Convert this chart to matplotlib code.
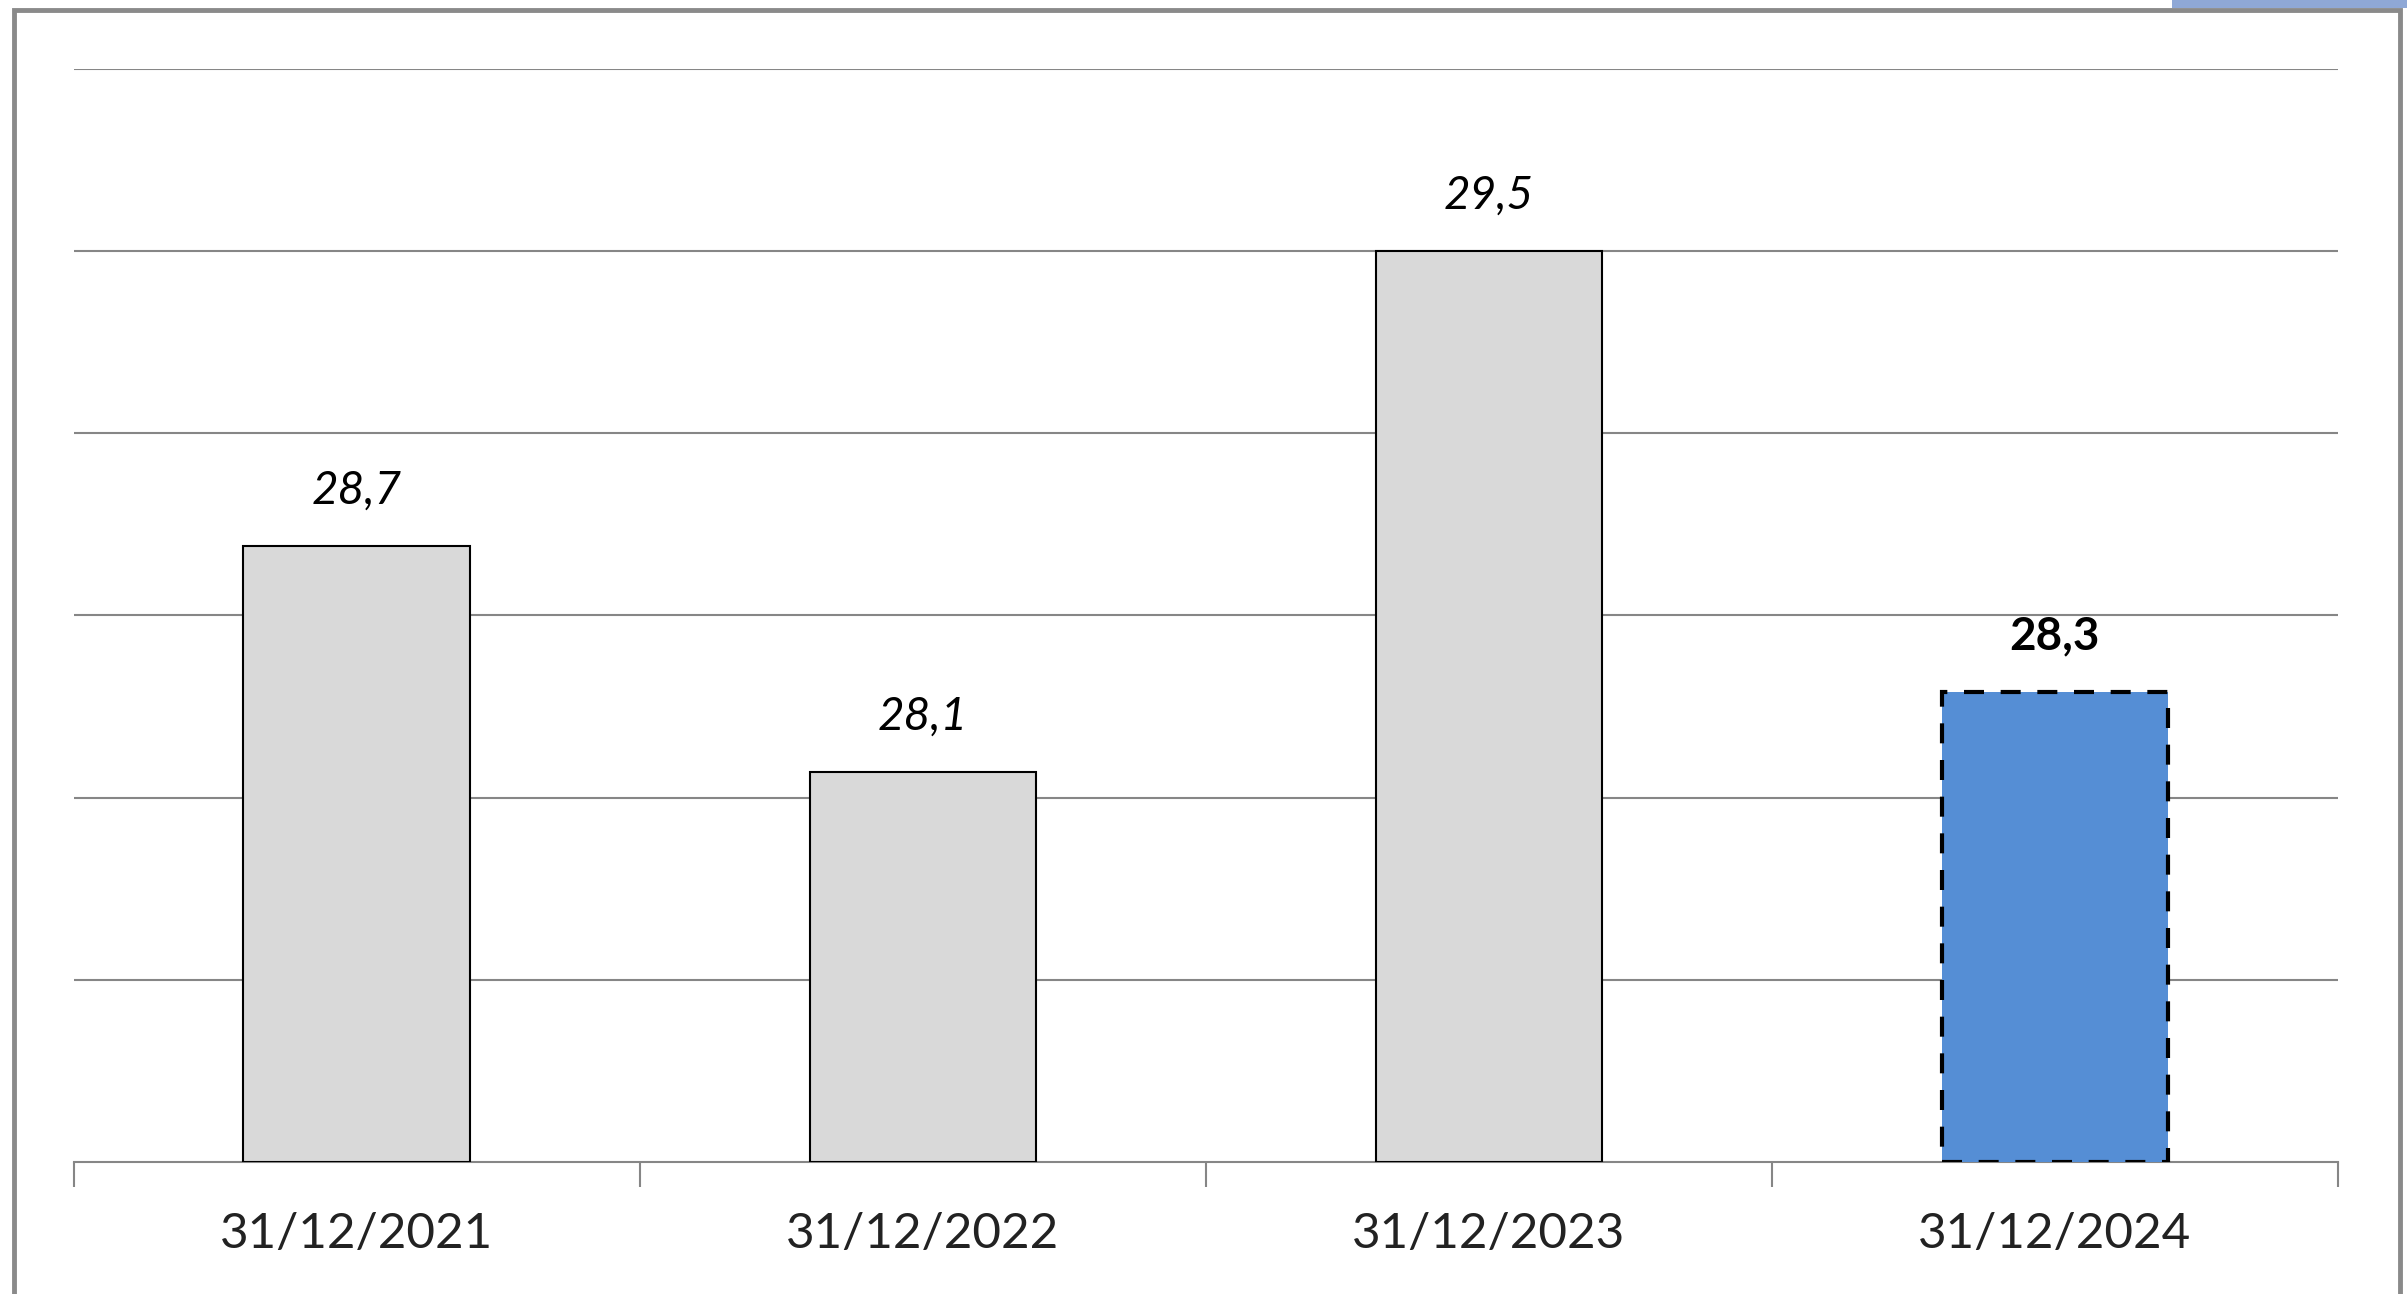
import numpy as np
import matplotlib.pyplot as plt
from matplotlib.patches import Rectangle

# data
categories = ["31/12/2021", "31/12/2022", "31/12/2023", "31/12/2024"]
values = [28.69, 28.07, 29.5, 28.29]
labels = ["28,7", "28,1", "29,5", "28,3"]

plt.rcParams['font.family'] = ['Lato', 'DejaVu Sans']

fig = plt.figure(figsize=(24.07, 12.94), dpi=100)

# outer chart frame (gray border, runs off the bottom)
fig.patches.append(Rectangle((2400 / 2407, 1 - 8 / 1294), 1, 1, transform=fig.transFigure,
                             facecolor="#8fa8d6", edgecolor="none", zorder=0))
fig.patches.append(Rectangle((2172 / 2407, 1 - 8 / 1294), 1, 1, transform=fig.transFigure,
                             facecolor="#8fa8d6", edgecolor="none", zorder=0))
fig.patches.append(Rectangle((14 / 2407, -0.05), (2400 - 14) / 2407, 1.05 - 10 / 1294,
                             transform=fig.transFigure, facecolor="white",
                             edgecolor="#8a8a8a", linewidth=3.5, zorder=1))

ax = fig.add_axes([0.0306, 0.102, 0.9407, 0.8447])
ax.set_zorder(2)
ax.patch.set_alpha(0)

x = np.arange(len(categories))
colors = ["#d9d9d9", "#d9d9d9", "#d9d9d9", "#558ed5"]
bars = ax.bar(x, [v - 27 for v in values], bottom=27, width=0.4, color=colors,
              edgecolor="black", linewidth=1.5, zorder=3)
bars[-1].set_linestyle((0, (4.8, 4)))
bars[-1].set_linewidth(3)

for i, (v, lab) in enumerate(zip(values, labels)):
    last = i == len(values) - 1
    ax.annotate(lab, (x[i], v), xytext=(0, 25), textcoords="offset points",
                ha="center", va="bottom", fontsize=33,
                fontstyle="normal" if last else "italic",
                fontweight="bold" if last else "normal", color="black")

ax.set_xlim(-0.5, len(categories) - 0.5)
ax.set_ylim(27, 30)
ax.set_yticks(np.arange(27.5, 30.01, 0.5))
ax.yaxis.grid(True, color="#868686", linewidth=1.5)
ax.tick_params(axis="y", left=False, labelleft=False)

ax.set_xticks(x)
ax.set_xticklabels(categories, fontsize=35.5, color="#222222")
ax.tick_params(axis="x", length=0, pad=36)
# boundary ticks between categories
ax.set_xticks(np.arange(-0.5, len(categories), 1), minor=True)
ax.tick_params(axis="x", which="minor", length=18, width=1.5, color="#868686", direction="out")

for s in ["top", "right", "left"]:
    ax.spines[s].set_visible(False)
ax.spines["bottom"].set_color("#868686")
ax.spines["bottom"].set_linewidth(1.5)
ax.set_axisbelow(True)

plt.savefig("out.png", dpi=100)
